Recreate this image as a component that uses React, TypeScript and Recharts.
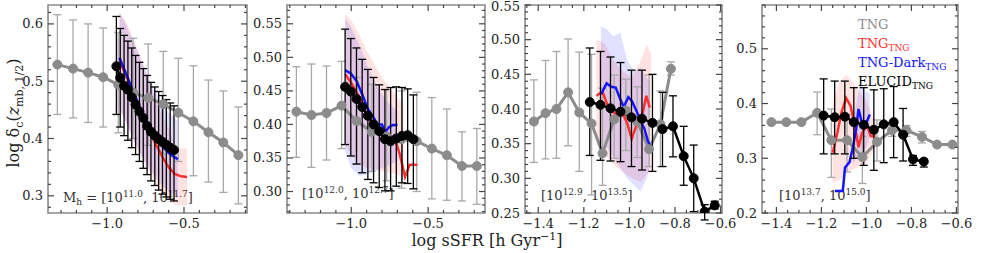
import React from 'react';
import { ComposedChart, Line, Area, XAxis, YAxis, ErrorBar, ReferenceArea } from 'recharts';

const W = 981;
const H = 253;
const GRAY = '#8c8c8c';
const GRAY_ERR = '#a8a8a8';
const RED = '#ff3030';
const BLUE = '#1414ff';
const FONT = '"DejaVu Serif", serif';

// ---- panel 1: Mh = [10^11.0, 10^11.7]
const p1GrayX = [-1.324, -1.222, -1.124, -1.026, -0.928, -0.831, -0.733, -0.635, -0.537, -0.439, -0.341, -0.244, -0.146];
const p1GrayY = [0.529, 0.522, 0.515, 0.507, 0.494, 0.480, 0.471, 0.460, 0.445, 0.430, 0.411, 0.393, 0.371];
const p1GrayHi = [0.616, 0.607, 0.600, 0.593, 0.585, 0.575, 0.565, 0.552, 0.540, 0.527, 0.502, 0.483, 0.455];
const p1GrayLo = [0.442, 0.436, 0.428, 0.420, 0.410, 0.400, 0.388, 0.372, 0.360, 0.335, 0.324, 0.306, 0.286];
const p1BlackX = [-0.940, -0.915, -0.890, -0.865, -0.840, -0.815, -0.790, -0.765, -0.740, -0.715, -0.690, -0.665, -0.640, -0.615, -0.590, -0.565];
const p1BlackY = [0.526, 0.506, 0.492, 0.485, 0.472, 0.459, 0.447, 0.436, 0.422, 0.412, 0.405, 0.399, 0.394, 0.389, 0.384, 0.380];
const p1BlackHi = [0.613, 0.592, 0.580, 0.570, 0.558, 0.545, 0.533, 0.522, 0.510, 0.498, 0.490, 0.482, 0.475, 0.468, 0.462, 0.457];
const p1BlackLo = [0.442, 0.420, 0.405, 0.397, 0.384, 0.372, 0.360, 0.348, 0.337, 0.326, 0.318, 0.310, 0.303, 0.298, 0.294, 0.291];
const p1RedX = [-0.92, -0.88, -0.84, -0.80, -0.76, -0.72, -0.68, -0.64, -0.60, -0.56, -0.52, -0.48];
const p1RedY = [0.535, 0.512, 0.487, 0.462, 0.436, 0.410, 0.388, 0.368, 0.350, 0.338, 0.334, 0.333];
const p1RedHi = [0.620, 0.605, 0.580, 0.555, 0.525, 0.495, 0.465, 0.440, 0.420, 0.390, 0.383, 0.382];
const p1RedLo = [0.450, 0.430, 0.405, 0.380, 0.360, 0.340, 0.320, 0.300, 0.290, 0.285, 0.283, 0.283];
const p1BlueX = [-0.92, -0.88, -0.84, -0.80, -0.76, -0.72, -0.68, -0.64, -0.60, -0.56, -0.54];
const p1BlueY = [0.541, 0.515, 0.488, 0.462, 0.438, 0.416, 0.399, 0.386, 0.375, 0.367, 0.364];
const p1BlueHi = [0.620, 0.600, 0.575, 0.550, 0.525, 0.500, 0.480, 0.460, 0.445, 0.435, 0.430];
const p1BlueLo = [0.455, 0.430, 0.405, 0.382, 0.362, 0.345, 0.330, 0.318, 0.308, 0.300, 0.298];

// ---- panel 2: [10^12.0, 10^12.7]
const p2GrayX = [-1.357, -1.259, -1.161, -1.063, -0.965, -0.867, -0.770, -0.672, -0.574, -0.476, -0.378, -0.280, -0.183];
const p2GrayY = [0.419, 0.414, 0.417, 0.428, 0.405, 0.389, 0.382, 0.378, 0.375, 0.364, 0.354, 0.338, 0.338];
const p2GrayHi = [0.486, 0.490, 0.487, 0.494, 0.470, 0.460, 0.452, 0.450, 0.448, 0.440, 0.423, 0.389, 0.394];
const p2GrayLo = [0.351, 0.336, 0.347, 0.364, 0.341, 0.330, 0.316, 0.305, 0.300, 0.289, 0.287, 0.286, 0.281];
const p2BlackX = [-1.040, -1.003, -0.966, -0.929, -0.892, -0.855, -0.818, -0.781, -0.744, -0.707, -0.670, -0.633, -0.596];
const p2BlackY = [0.456, 0.449, 0.438, 0.426, 0.413, 0.400, 0.390, 0.378, 0.375, 0.379, 0.383, 0.384, 0.378];
const p2BlackHi = [0.542, 0.528, 0.514, 0.497, 0.482, 0.470, 0.459, 0.452, 0.455, 0.456, 0.455, 0.453, 0.444];
const p2BlackLo = [0.370, 0.353, 0.341, 0.328, 0.318, 0.313, 0.306, 0.301, 0.301, 0.308, 0.313, 0.312, 0.304];
const p2RedX = [-1.040, -1.000, -0.950, -0.900, -0.850, -0.800, -0.770, -0.745, -0.715, -0.685, -0.650, -0.620, -0.570];
const p2RedY = [0.475, 0.462, 0.442, 0.414, 0.398, 0.392, 0.378, 0.383, 0.378, 0.356, 0.322, 0.340, 0.340];
const p2RedBandX = [-1.04, -1.00, -0.95, -0.90, -0.85, -0.80, -0.75, -0.70, -0.66];
const p2RedHi = [0.565, 0.555, 0.535, 0.510, 0.490, 0.470, 0.455, 0.440, 0.430];
const p2RedLo = [0.370, 0.355, 0.343, 0.335, 0.333, 0.330, 0.328, 0.325, 0.322];
const p2BlueX = [-1.040, -1.003, -0.966, -0.929, -0.892, -0.855, -0.830, -0.800, -0.780, -0.755, -0.730, -0.700];
const p2BlueY = [0.481, 0.476, 0.465, 0.445, 0.423, 0.410, 0.400, 0.400, 0.388, 0.396, 0.399, 0.399];
const p2BlueBandX = [-1.04, -1.00, -0.95, -0.90, -0.85, -0.80, -0.75, -0.70];
const p2BlueHi = [0.558, 0.545, 0.520, 0.490, 0.465, 0.445, 0.430, 0.420];
const p2BlueLo = [0.360, 0.335, 0.323, 0.325, 0.330, 0.335, 0.340, 0.345];

// ---- panel 3: [10^12.9, 10^13.5]
const p3GrayX = [-1.419, -1.368, -1.320, -1.269, -1.220, -1.166, -1.118, -1.067, -1.016, -0.966, -0.914, -0.864, -0.818];
const p3GrayY = [0.382, 0.394, 0.400, 0.424, 0.395, 0.379, 0.336, 0.385, 0.398, 0.382, 0.342, 0.378, 0.458];
const p3GrayHi = [0.442, 0.470, 0.483, 0.501, 0.482, 0.479, 0.430, 0.449, 0.443, 0.432, 0.449, 0.426, 0.468];
const p3GrayLo = [0.323, 0.328, 0.329, 0.347, 0.310, 0.276, 0.290, 0.329, 0.340, 0.330, 0.317, 0.317, 0.449];
const p3BlackX = [-1.174, -1.127, -1.083, -1.039, -0.991, -0.945, -0.899, -0.855, -0.809, -0.762, -0.718, -0.670, -0.626];
const p3BlackY = [0.410, 0.406, 0.401, 0.396, 0.388, 0.386, 0.380, 0.371, 0.375, 0.332, 0.300, 0.252, 0.261];
const p3BlackHi = [0.488, 0.483, 0.475, 0.467, 0.456, 0.456, 0.450, 0.424, 0.419, 0.375, 0.348, 0.262, 0.267];
const p3BlackLo = [0.333, 0.326, 0.325, 0.324, 0.317, 0.312, 0.310, 0.317, 0.331, 0.290, 0.252, 0.240, 0.256];
const p3RedX = [-1.145, -1.118, -1.090, -1.060, -1.035, -1.010, -0.990, -0.970, -0.947, -0.926, -0.911];
const p3RedY = [0.419, 0.425, 0.400, 0.393, 0.397, 0.380, 0.357, 0.376, 0.386, 0.419, 0.402];
const p3RedBandX = [-1.145, -1.11, -1.07, -1.03, -0.99, -0.95, -0.925, -0.905];
const p3RedHi = [0.500, 0.495, 0.470, 0.455, 0.445, 0.470, 0.493, 0.480];
const p3RedLo = [0.350, 0.335, 0.320, 0.310, 0.300, 0.295, 0.305, 0.315];
const p3BlueX = [-1.125, -1.100, -1.080, -1.060, -1.040, -1.025, -1.005, -0.990, -0.970, -0.950, -0.935, -0.920, -0.910];
const p3BlueY = [0.421, 0.437, 0.432, 0.431, 0.414, 0.403, 0.417, 0.412, 0.398, 0.382, 0.372, 0.355, 0.347];
const p3BlueBandX = [-1.125, -1.10, -1.07, -1.04, -1.01, -0.98, -0.95, -0.925, -0.91];
const p3BlueHi = [0.519, 0.515, 0.505, 0.510, 0.470, 0.455, 0.460, 0.445, 0.440];
const p3BlueLo = [0.345, 0.345, 0.330, 0.315, 0.300, 0.290, 0.281, 0.300, 0.315];

// ---- panel 4: [10^13.7, 10^15.0]
const p4GrayX = [-1.422, -1.356, -1.289, -1.219, -1.156, -1.086, -1.018, -0.953, -0.886, -0.822, -0.753, -0.686, -0.618];
const p4GrayY = [0.366, 0.366, 0.366, 0.383, 0.333, 0.333, 0.302, 0.330, 0.351, 0.351, 0.339, 0.325, 0.325];
const p4GrayHi = [0.366, 0.366, 0.366, 0.421, 0.390, 0.380, 0.340, 0.370, 0.360, 0.360, 0.349, 0.325, 0.325];
const p4GrayLo = [0.366, 0.366, 0.366, 0.343, 0.265, 0.275, 0.254, 0.295, 0.340, 0.340, 0.328, 0.325, 0.325];
const p4BlackX = [-1.190, -1.141, -1.096, -1.056, -1.012, -0.967, -0.923, -0.879, -0.837, -0.793, -0.745];
const p4BlackY = [0.378, 0.375, 0.376, 0.366, 0.361, 0.352, 0.362, 0.366, 0.343, 0.298, 0.294];
const p4BlackHi = [0.445, 0.441, 0.441, 0.429, 0.429, 0.425, 0.427, 0.431, 0.391, 0.305, 0.298];
const p4BlackLo = [0.308, 0.308, 0.308, 0.300, 0.287, 0.278, 0.292, 0.301, 0.295, 0.287, 0.284];
const p4RedX = [-1.150, -1.130, -1.110, -1.090, -1.070, -1.050, -1.035, -1.020, -1.000, -0.980, -0.960];
const p4RedY = [0.310, 0.345, 0.385, 0.410, 0.395, 0.355, 0.320, 0.345, 0.362, 0.340, 0.340];
const p4RedBandX = [-1.15, -1.12, -1.09, -1.06, -1.03, -1.00, -0.975, -0.955];
const p4RedHi = [0.400, 0.440, 0.453, 0.440, 0.420, 0.405, 0.380, 0.360];
const p4RedLo = [0.255, 0.260, 0.275, 0.280, 0.285, 0.290, 0.310, 0.320];
const p4BlueX = [-1.140, -1.105, -1.095, -1.075, -1.060, -1.045, -1.035, -1.020, -1.005, -0.985];
const p4BlueY = [0.240, 0.240, 0.283, 0.293, 0.320, 0.355, 0.390, 0.365, 0.360, 0.380];
const p4BlueBandX = [-1.06, -1.045, -1.03, -1.015, -1.00, -0.985];
const p4BlueHi = [0.360, 0.400, 0.435, 0.430, 0.420, 0.420];
const p4BlueLo = [0.290, 0.300, 0.310, 0.310, 0.320, 0.340];

// tick labels
const xTicksA = [-1.0, -0.5];
const xTicksB = [-1.4, -1.2, -1.0, -0.8, -0.6];
const p1YTicks = [0.3, 0.4, 0.5, 0.6];
const p2YTicks = [0.30, 0.35, 0.40, 0.45, 0.50, 0.55];
const p3YTicks = [0.25, 0.30, 0.35, 0.40, 0.45, 0.50, 0.55];
const p4YTicks = [0.2, 0.3, 0.4, 0.5];

const legendItems = [
  { name: 'TNG', sub: '', color: '#8c8c8c' },
  { name: 'TNG', sub: 'TNG', color: RED },
  { name: 'TNG-Dark', sub: 'TNG', color: BLUE },
  { name: 'ELUCID', sub: 'TNG', color: '#000' },
];

const pts = (xs: number[], ys: number[]) => xs.map((x, i) => ({ x, y: ys[i] }));
const errPts = (xs: number[], ys: number[], lo: number[], hi: number[]) =>
  xs.map((x, i) => ({ x, y: ys[i], e: [ys[i] - lo[i], hi[i] - ys[i]] }));
const band = (xs: number[], lo: number[], hi: number[]) => xs.map((x, i) => ({ x, r: [lo[i], hi[i]] }));

const steps = (a: number, b: number, s: number) => {
  const out: number[] = [];
  for (let v = Math.ceil(a / s - 1e-6) * s; v <= b + 1e-9; v += s) out.push(Math.round(v * 1000) / 1000);
  return out;
};
const fmt = (v: number, d: number) => v.toFixed(d).replace('-', '\u2212');

const TOP = 5;
const BOTTOM = 213;

const Panel = ({ left, right, xDom, yDom, xMajor, xStep, xDig, yMajor, yStep, yDig, gray, black, red, blue, redBand, blueBand }: any) => {
  const isMajor = (v: number, arr: number[]) => arr.some((m) => Math.abs(m - v) < 1e-6);
  const xTicks = steps(xDom[0], xDom[1], xStep);
  const yTicks = steps(yDom[0], yDom[1], yStep);
  const tc = '#444';

  const xTick = (p: any) => {
    const v = p.payload.value;
    const maj = isMajor(v, xMajor);
    const len = maj ? 6 : 3;
    return (
      <g>
        <line x1={p.x} x2={p.x} y1={BOTTOM} y2={BOTTOM - len} stroke={tc} strokeWidth={1.2} />
        <line x1={p.x} x2={p.x} y1={TOP} y2={TOP + len} stroke={tc} strokeWidth={1.2} />
        {maj && (
          <text x={p.x} y={BOTTOM + 15} textAnchor="middle" fontSize={13} fontFamily={FONT} fill="#222">
            {fmt(v, xDig)}
          </text>
        )}
      </g>
    );
  };
  const yTick = (p: any) => {
    const v = p.payload.value;
    const maj = isMajor(v, yMajor);
    const len = maj ? 6 : 3;
    return (
      <g>
        <line x1={left} x2={left + len} y1={p.y} y2={p.y} stroke={tc} strokeWidth={1.2} />
        <line x1={right} x2={right - len} y1={p.y} y2={p.y} stroke={tc} strokeWidth={1.2} />
        {maj && (
          <text x={left - 5} y={Math.max(p.y + 4.5, 11)} textAnchor="end" fontSize={13} fontFamily={FONT} fill="#222">
            {fmt(v, yDig)}
          </text>
        )}
      </g>
    );
  };

  // axes are given 1px of room so that Recharts draws their ticks
  return (
    <div style={{ position: 'absolute', left: 0, top: 0 }}>
      <ComposedChart width={W} height={H} margin={{ top: TOP, bottom: H - BOTTOM - 1, left: left - 1, right: W - right }}>
        <XAxis type="number" dataKey="x" domain={xDom} allowDataOverflow ticks={xTicks} interval={0} tick={xTick}
          tickLine={false} axisLine={false} height={1} tickSize={0} tickMargin={0} />
        <YAxis type="number" domain={yDom} allowDataOverflow ticks={yTicks} interval={0} tick={yTick}
          tickLine={false} axisLine={false} width={1} tickSize={0} tickMargin={0} />
        <Area data={redBand} dataKey="r" type="linear" stroke="none" fill={RED} fillOpacity={0.14} isAnimationActive={false} />
        <Area data={blueBand} dataKey="r" type="linear" stroke="none" fill={BLUE} fillOpacity={0.13} isAnimationActive={false} />
        <Line data={gray} dataKey="y" type="linear" stroke={GRAY} strokeWidth={3} dot={{ r: 4.5, fill: GRAY, stroke: GRAY, strokeWidth: 1 }}
          activeDot={false} isAnimationActive={false}>
          <ErrorBar dataKey="e" direction="y" width={4} stroke={GRAY_ERR} strokeWidth={1.3} />
        </Line>
        <Line data={red} dataKey="y" type="linear" stroke={RED} strokeWidth={2.5} dot={false} activeDot={false} isAnimationActive={false} />
        <Line data={blue} dataKey="y" type="linear" stroke={BLUE} strokeWidth={2.5} dot={false} activeDot={false} isAnimationActive={false} />
        <Line data={black} dataKey="y" type="linear" stroke="#000" strokeWidth={2.5} dot={{ r: 4.5, fill: '#000', stroke: '#000', strokeWidth: 1 }}
          activeDot={false} isAnimationActive={false}>
          <ErrorBar dataKey="e" direction="y" width={4} stroke="#000" strokeWidth={1.3} />
        </Line>
        <ReferenceArea x1={xDom[0]} x2={xDom[1]} y1={yDom[0]} y2={yDom[1]} fill="none" stroke="#8a8a8a" strokeWidth={1.6} ifOverflow="visible" />
      </ComposedChart>
    </div>
  );
};

const txt: React.CSSProperties = { position: 'absolute', fontFamily: FONT, fontSize: 13, color: '#333', whiteSpace: 'nowrap', lineHeight: 1 };
const sup: React.CSSProperties = { fontSize: 9, verticalAlign: 5 };
const sub: React.CSSProperties = { fontSize: 9, verticalAlign: -3 };
const tsup: React.CSSProperties = { fontSize: 11, verticalAlign: 6 };
const tsub: React.CSSProperties = { fontSize: 11, verticalAlign: -4 };

export default function App() {
  return (
    <div style={{ position: 'absolute', left: 0, top: 0, width: W, height: H, background: '#fff', overflow: 'hidden' }}>
      {/* annotations drawn under the plots */}
      <div style={{ ...txt, left: 63, top: 190 }}>
        M<span style={sub}>h</span> = [10<span style={sup}>11.0</span>, 10<span style={sup}>11.7</span>]
      </div>
      <div style={{ ...txt, left: 302, top: 186 }}>
        [10<span style={sup}>12.0</span>, 10<span style={sup}>12.7</span>]
      </div>
      <div style={{ ...txt, left: 541, top: 188 }}>
        [10<span style={sup}>12.9</span>, 10<span style={sup}>13.5</span>]
      </div>
      <div style={{ ...txt, left: 779, top: 188 }}>
        [10<span style={sup}>13.7</span>, 10<span style={sup}>15.0</span>]
      </div>

      <Panel left={48} right={247} xDom={[-1.385, -0.09]} yDom={[0.27, 0.633]} xMajor={xTicksA} xStep={0.1} xDig={1}
        yMajor={p1YTicks} yStep={0.02} yDig={1}
        gray={errPts(p1GrayX, p1GrayY, p1GrayLo, p1GrayHi)} black={errPts(p1BlackX, p1BlackY, p1BlackLo, p1BlackHi)}
        red={pts(p1RedX, p1RedY)} blue={pts(p1BlueX, p1BlueY)}
        redBand={band(p1RedX, p1RedLo, p1RedHi)} blueBand={band(p1BlueX, p1BlueLo, p1BlueHi)} />
      <Panel left={287} right={485} xDom={[-1.418, -0.13]} yDom={[0.268, 0.578]} xMajor={xTicksA} xStep={0.1} xDig={1}
        yMajor={p2YTicks} yStep={0.01} yDig={2}
        gray={errPts(p2GrayX, p2GrayY, p2GrayLo, p2GrayHi)} black={errPts(p2BlackX, p2BlackY, p2BlackLo, p2BlackHi)}
        red={pts(p2RedX, p2RedY)} blue={pts(p2BlueX, p2BlueY)}
        redBand={band(p2RedBandX, p2RedLo, p2RedHi)} blueBand={band(p2BlueBandX, p2BlueLo, p2BlueHi)} />
      <Panel left={525} right={722} xDom={[-1.458, -0.594]} yDom={[0.25, 0.55]} xMajor={xTicksB} xStep={0.05} xDig={1}
        yMajor={p3YTicks} yStep={0.01} yDig={2}
        gray={errPts(p3GrayX, p3GrayY, p3GrayLo, p3GrayHi)} black={errPts(p3BlackX, p3BlackY, p3BlackLo, p3BlackHi)}
        red={pts(p3RedX, p3RedY)} blue={pts(p3BlueX, p3BlueY)}
        redBand={band(p3RedBandX, p3RedLo, p3RedHi)} blueBand={band(p3BlueBandX, p3BlueLo, p3BlueHi)} />
      <Panel left={762} right={958} xDom={[-1.464, -0.593]} yDom={[0.2, 0.58]} xMajor={xTicksB} xStep={0.05} xDig={1}
        yMajor={p4YTicks} yStep={0.02} yDig={1}
        gray={errPts(p4GrayX, p4GrayY, p4GrayLo, p4GrayHi)} black={errPts(p4BlackX, p4BlackY, p4BlackLo, p4BlackHi)}
        red={pts(p4RedX, p4RedY)} blue={pts(p4BlueX, p4BlueY)}
        redBand={band(p4RedBandX, p4RedLo, p4RedHi)} blueBand={band(p4BlueBandX, p4BlueLo, p4BlueHi)} />

      {/* legend */}
      {legendItems.map((it, i) => (
        <div key={i} style={{ ...txt, left: 858, top: 18 + i * 19, color: it.color, fontSize: 13 }}>
          {it.name}
          {it.sub && <span style={sub}>{it.sub}</span>}
        </div>
      ))}

      {/* axis titles */}
      <div style={{ ...txt, fontSize: 16, color: '#222', left: 15, top: 113, transform: 'translate(-50%, -50%) rotate(-90deg)' }}>
        log δ<span style={tsub}>c</span>(<i>z</i><span style={tsub}>mb, 1/2</span>)
      </div>
      <div style={{ ...txt, fontSize: 16, color: '#222', left: 487, top: 240, transform: 'translate(-50%, -50%)' }}>
        log sSFR [h Gyr<span style={tsup}>−1</span>]
      </div>
    </div>
  );
}
